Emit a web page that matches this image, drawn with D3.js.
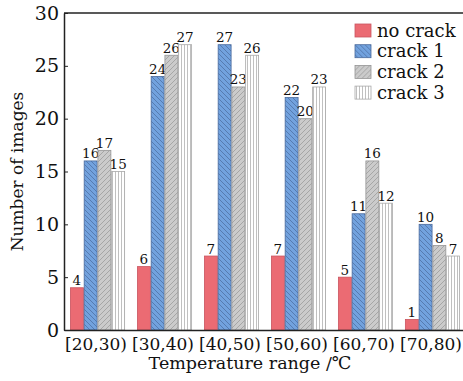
<!DOCTYPE html>
<html><head><meta charset="utf-8">
<script src="https://cdn.jsdelivr.net/npm/d3@7/dist/d3.min.js"></script>
<style>body{margin:0;background:#fff;} svg{display:block;font-family:"DejaVu Serif","Liberation Serif",serif;}</style>
</head><body><svg id="c" width="463" height="381"></svg>
<script>
const categories = ["[20,30)","[30,40)","[40,50)","[50,60)","[60,70)","[70,80)"];
const seriesNames = ["no crack","crack 1","crack 2","crack 3"];
const noCrack = [4,6,7,7,5,1];
const crack1 = [16,24,27,22,11,10];
const crack2 = [17,26,23,20,16,8];
const crack3 = [15,27,26,23,12,7];
const yTicks = [0,5,10,15,20,25,30];
const seriesValues = [noCrack, crack1, crack2, crack3];

const svg = d3.select("#c");
const defs = svg.append("defs");
function pat(id, bg, draw){
  const p = defs.append("pattern").attr("id",id).attr("patternUnits","userSpaceOnUse").attr("width",5).attr("height",5);
  p.append("rect").attr("width",5).attr("height",5).attr("fill",bg);
  draw(p);
}
pat("p0","#eb6b73",()=>{});
pat("p1","#72a2de",p=>{
  p.append("path").attr("d","M-1,-1 L6,6 M-1,4 L1,6 M4,-1 L6,1").attr("stroke","#4a6a9c").attr("stroke-width",0.7);
});
pat("p2","#cbcbcb",p=>{
  p.append("path").attr("d","M-1,6 L6,-1 M-1,1 L1,-1 M4,6 L6,4").attr("stroke","#979797").attr("stroke-width",0.7);
});
defs.append("pattern").attr("id","p3").attr("patternUnits","userSpaceOnUse").attr("width",3).attr("height",4)
  .call(p=>{p.append("rect").attr("width",3).attr("height",4).attr("fill","#fff");
            p.append("line").attr("x1",1.5).attr("x2",1.5).attr("y1",0).attr("y2",4).attr("stroke","#b0b0b0").attr("stroke-width",0.8);});
const fills = ["url(#p0)","url(#p1)","url(#p2)","url(#p3)"];
const strokes = ["#c95560","#4a6a9c","#959595","#a8a8a8"];

const mL=64, mR=466, mT=13, mB=330;
const x = d3.scaleBand().domain(categories).range([mL,mR]).paddingInner(12/67).paddingOuter(0.09);
const xs = d3.scaleBand().domain(seriesNames).range([0,x.bandwidth()]);
const y = d3.scaleLinear().domain([0,30]).range([mB,mT]);

const g = svg.append("g");
seriesNames.forEach((s,si)=>{
  const data = seriesValues[si];
  g.selectAll(null).data(categories).enter().append("rect")
    .attr("x",d=>x(d)+xs(s)+0.4)
    .attr("y",(d,i)=>y(data[i]))
    .attr("width",xs.bandwidth()-0.8)
    .attr("height",(d,i)=>mB-y(data[i]))
    .attr("fill",fills[si]).attr("stroke",strokes[si]).attr("stroke-width",0.8);
  g.selectAll(null).data(categories).enter().append("text")
    .attr("x",d=>x(d)+xs(s)+xs.bandwidth()/2)
    .attr("y",(d,i)=>y(data[i])-2.5)
    .attr("text-anchor","middle").attr("font-size",13.5).attr("fill","#111")
    .text((d,i)=>data[i]);
});

const yAxis = d3.axisLeft(y).tickValues(yTicks).tickSizeInner(-4).tickSizeOuter(0).tickPadding(5);
const ya = svg.append("g").attr("transform",`translate(${mL},0)`).call(yAxis);
ya.selectAll("text").attr("font-size",19).attr("font-family","DejaVu Serif, serif").attr("fill","#111");
ya.select(".domain").attr("stroke","#222").attr("stroke-width",1.5);
ya.selectAll(".tick line").attr("stroke","#222");

const xAxis = d3.axisBottom(x).tickSize(0).tickPadding(8);
const xa = svg.append("g").attr("transform",`translate(0,${mB})`).call(xAxis);
xa.selectAll("text").attr("font-size",17).attr("font-family","DejaVu Serif, serif").attr("fill","#111").attr("dx",-1.5);
xa.select(".domain").attr("stroke","#222").attr("stroke-width",1.5);

svg.append("line").attr("x1",mL).attr("x2",mR).attr("y1",mT).attr("y2",mT).attr("stroke","#222").attr("stroke-width",1.5);

svg.append("text").attr("transform",`translate(23,${(mT+mB)/2}) rotate(-90)`)
  .attr("text-anchor","middle").attr("font-size",17).attr("fill","#111").text("Number of images");
svg.append("text").attr("x",250).attr("y",369)
  .attr("text-anchor","middle").attr("font-size",17.5).attr("fill","#111").text("Temperature range /℃");

const lg = svg.append("g").attr("transform","translate(355,24)");
seriesNames.forEach((s,i)=>{
  const row = lg.append("g").attr("transform",`translate(0,${i*20.7})`);
  row.append("rect").attr("width",16).attr("height",13).attr("fill",fills[i]).attr("stroke",strokes[i]).attr("stroke-width",0.8);
  row.append("text").attr("x",22).attr("y",12.5).attr("font-size",18).attr("fill","#111").text(s);
});
</script></body></html>
